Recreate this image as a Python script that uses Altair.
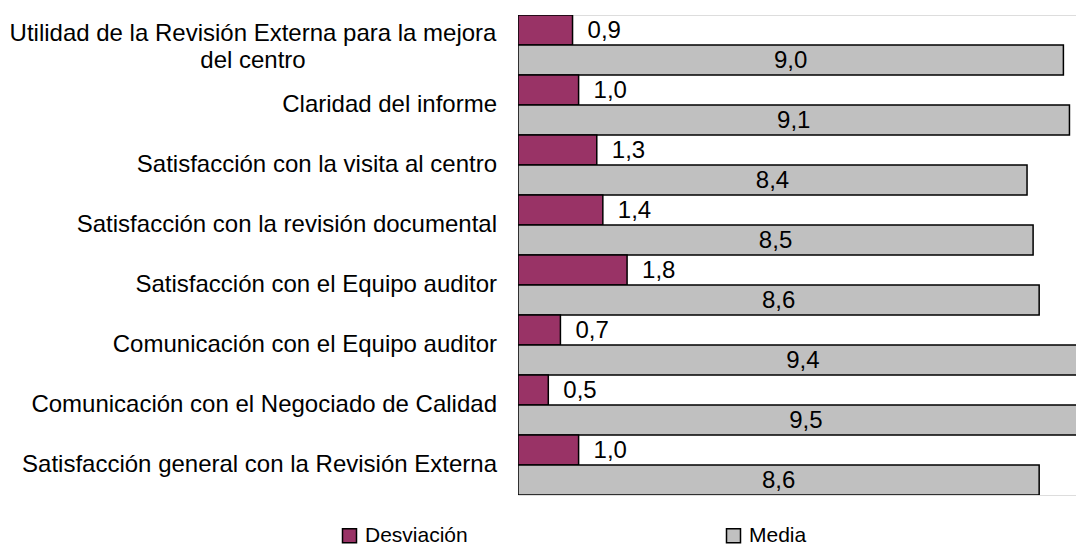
import altair as alt
import pandas as pd

categories = [
    "Utilidad de la Revisión Externa para la mejora del centro",
    "Claridad del informe",
    "Satisfacción con la visita al centro",
    "Satisfacción con la revisión documental\u00a0",
    "Satisfacción con el Equipo auditor",
    "Comunicación con el Equipo auditor",
    "Comunicación con el Negociado de Calidad",
    "Satisfacción general con la Revisión Externa",
]
desviacion = [0.9, 1.0, 1.3, 1.4, 1.8, 0.7, 0.5, 1.0]
media = [9.0, 9.1, 8.4, 8.5, 8.6, 9.4, 9.5, 8.6]
series = ["Desviación", "Media"]
colors = ["#993366", "#C0C0C0"]

rows = []
for c, d, m in zip(categories, desviacion, media):
    rows.append({"cat": c, "serie": series[0], "valor": d})
    rows.append({"cat": c, "serie": series[1], "valor": m})
df = pd.DataFrame(rows)

FONT = "Liberation Sans"
FS = 24
PLOT_W = 558
PLOT_H = 480
XMAX = PLOT_W / 60.6

x_scale = alt.Scale(domain=[0, XMAX], nice=False, zero=True)
y_enc = alt.Y("cat:N", sort=categories, axis=None,
              scale=alt.Scale(domain=categories, paddingInner=0, paddingOuter=0))
yoff_enc = alt.YOffset("serie:N", sort=series,
                       scale=alt.Scale(domain=series, paddingInner=0, paddingOuter=0))

base = alt.Chart(df).transform_calculate(
    label="replace(format(datum.valor, '.1f'), '.', ',')",
    mid="datum.valor / 2",
)

bars = base.mark_bar(stroke="black", strokeWidth=1.5, clip=True).encode(
    x=alt.X("valor:Q", scale=x_scale, axis=None),
    y=y_enc,
    yOffset=yoff_enc,
    color=alt.Color(
        "serie:N",
        scale=alt.Scale(domain=series, range=colors),
        legend=alt.Legend(
            title=None, orient="none", legendX=-179, legendY=510,
            direction="horizontal", columnPadding=255,
            symbolType="square", symbolSize=196,
            symbolStrokeColor="black", symbolStrokeWidth=1.5,
            labelFont=FONT, labelFontSize=21, labelColor="black",
            labelOffset=5, padding=0,
        ),
    ),
)

dev_labels = base.transform_filter(alt.datum.serie == series[0]).mark_text(
    align="left", baseline="middle", dx=15, dy=1, fontSize=FS, font=FONT, color="black"
).encode(
    x=alt.X("valor:Q", scale=x_scale, axis=None),
    y=y_enc,
    yOffset=yoff_enc,
    text="label:N",
)

media_labels = base.transform_filter(alt.datum.serie == series[1]).mark_text(
    align="center", baseline="middle", dy=1, fontSize=FS, font=FONT, color="black"
).encode(
    x=alt.X("mid:Q", scale=x_scale, axis=None),
    y=y_enc,
    yOffset=yoff_enc,
    text="label:N",
)

cat_df = pd.DataFrame({"cat": categories[1:]})
cat_labels = alt.Chart(cat_df).mark_text(
    align="right", baseline="middle", fontSize=FS, font=FONT, color="black"
).encode(
    x=alt.value(-21),
    y=y_enc,
    text="cat:N",
)

first_df = pd.DataFrame({
    "cat": [categories[0]],
    "txt": ["Utilidad de la Revisión Externa para la mejora\ndel centro"],
})
first_label = alt.Chart(first_df).mark_text(
    align="center", baseline="middle", fontSize=FS, font=FONT, color="black",
    lineBreak="\n", lineHeight=27, dy=-11,
).encode(
    x=alt.value(-265),
    y=y_enc,
    text="txt:N",
)

chart = alt.layer(bars, dev_labels, media_labels, cat_labels, first_label).properties(
    width=PLOT_W,
    height=PLOT_H,
    padding={"left": 510, "top": 7, "right": 0, "bottom": 52},
    autosize=alt.AutoSizeParams(type="none"),
).configure_view(stroke=None).configure(background="white")

chart.save("out.html", embed_options={"renderer": "svg", "actions": False})
